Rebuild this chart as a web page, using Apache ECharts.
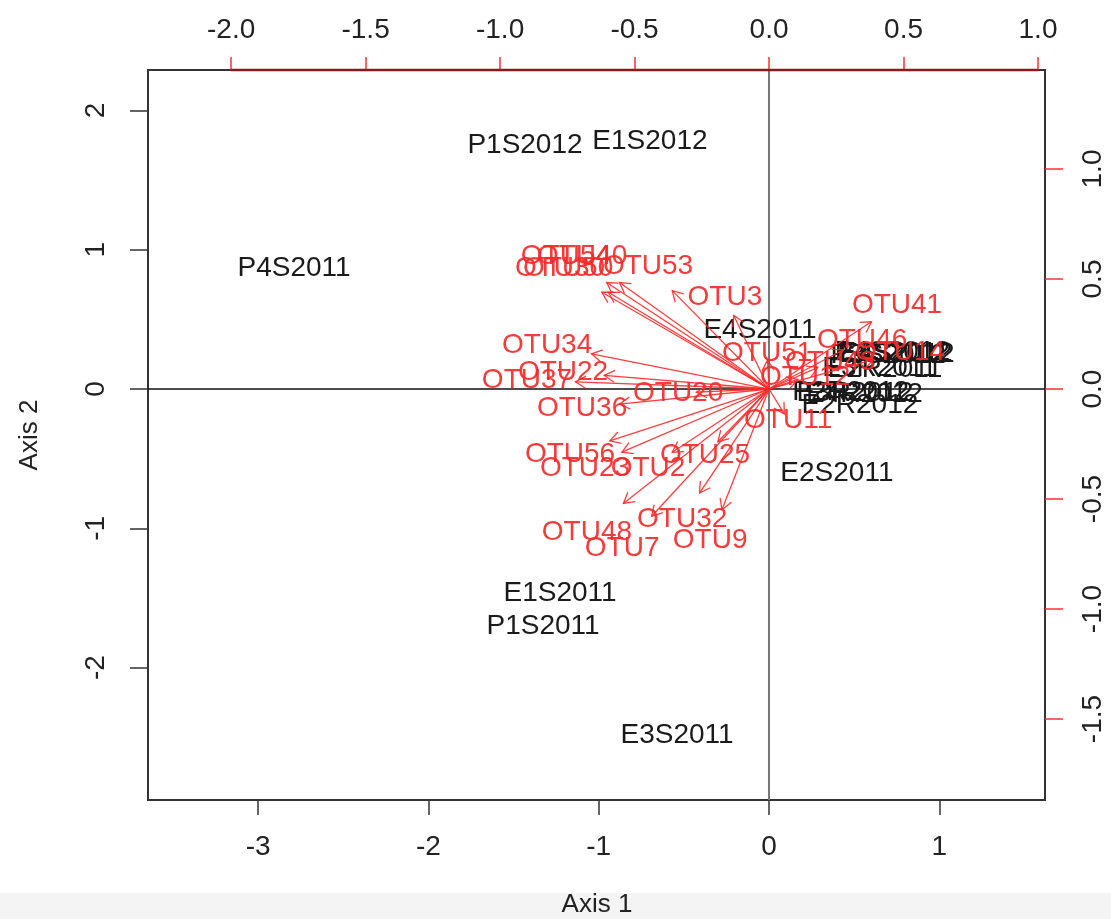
<!DOCTYPE html>
<html>
<head>
<meta charset="utf-8">
<script src="https://cdn.jsdelivr.net/npm/echarts@6/dist/echarts.min.js"></script>
<style>html,body{margin:0;padding:0;background:#fff}#c{width:1111px;height:919px}</style>
</head>
<body>
<div id="c"></div>
<script>
// Sample (site) scores, Axis 1 / Axis 2
const sampleNames = ['P1S2012','E1S2012','P4S2011','E4S2011','E2S2011','E1S2011','P1S2011','E3S2011',
  'P3S2012','E3S2012','P4S2012','E4S2012','E3R2011','E2R2011','P2R2012','E3R2012','E4R2012','E2R2012'];
const sampleX = [-1.433,-0.699,-2.789,-0.053,0.399,-1.227,-1.327,-0.540,
  0.700,0.740,0.725,0.752,0.650,0.681,0.480,0.505,0.560,0.534];
const sampleY = [1.752,1.780,0.869,0.424,-0.603,-1.464,-1.701,-2.484,
  0.245,0.255,0.262,0.250,0.150,0.144,-0.025,-0.030,-0.038,-0.115];

// OTU (species) loadings, top / right axes
const otuNames = ['OTU54','OTU40','OTU30','OTU50','OTU53','OTU3','OTU34','OTU22','OTU37','OTU36','OTU20',
  'OTU56','OTU23','OTU2','OTU25','OTU32','OTU9','OTU48','OTU7','OTU11','OTU41','OTU46','OTU14','OTU51','OTU12','OTU43'];
const otuX = [-0.755,-0.695,-0.777,-0.747,-0.450,-0.164,-0.825,-0.766,-0.900,-0.695,-0.338,
  -0.740,-0.684,-0.450,-0.238,-0.323,-0.219,-0.677,-0.546,0.071,0.476,0.346,0.487,-0.007,0.134,0.227];
const otuY = [0.605,0.605,0.550,0.550,0.559,0.418,0.200,0.077,0.041,-0.086,-0.018,
  -0.295,-0.359,-0.359,-0.300,-0.591,-0.686,-0.650,-0.723,-0.141,0.382,0.223,0.168,0.164,0.055,0.123];

// Tick labels
const axis1Ticks = [-3,-2,-1,0,1];
const axis2Ticks = [-2,-1,0,1,2];
const topTicks = [-2,-1.5,-1,-0.5,0,0.5,1];
const rightTicks = [-1.5,-1,-0.5,0,0.5,1];

const FONT = '"Liberation Sans", Arial, sans-serif';
const RED = '#f52a2a';
const chart = echarts.init(document.getElementById('c'), null, {renderer:'canvas'});

const lblStyle = {color:'#222', fontSize:28, fontFamily:FONT};

const option = {
  animation:false,
  backgroundColor:'#fff',
  grid:{left:148, right:66, top:70, bottom:119, show:true, borderColor:'#333', borderWidth:2, backgroundColor:'transparent'},
  xAxis:[
    {type:'value', position:'bottom', min:-3.647, max:1.621, splitLine:{show:false}, axisLine:{show:false, onZero:false},
     axisTick:{show:true, length:15, lineStyle:{color:'#333', width:1.5}, customValues:axis1Ticks},
     axisLabel:Object.assign({customValues:axis1Ticks, margin:33, formatter:v=>String(v)}, lblStyle)},
    {type:'value', position:'top', min:-2.309, max:1.026, splitLine:{show:false}, axisLine:{show:false, onZero:false},
     axisTick:{show:true, length:13, lineStyle:{color:'#ff3030', width:1.5}, customValues:topTicks},
     axisLabel:Object.assign({customValues:topTicks, margin:26, formatter:v=>v.toFixed(1)}, lblStyle)}
  ],
  yAxis:[
    {type:'value', position:'left', min:-2.95, max:2.29, splitLine:{show:false}, axisLine:{show:false, onZero:false},
     axisTick:{show:true, length:18, lineStyle:{color:'#333', width:1.5}, customValues:axis2Ticks},
     axisLabel:Object.assign({customValues:axis2Ticks, rotate:90, margin:38, formatter:v=>String(v)}, lblStyle)},
    {type:'value', position:'right', min:-1.868, max:1.45, splitLine:{show:false}, axisLine:{show:false, onZero:false},
     axisTick:{show:true, length:18, lineStyle:{color:'#ff3030', width:1.5}, customValues:rightTicks},
     axisLabel:Object.assign({customValues:rightTicks, rotate:90, margin:34, formatter:v=>v.toFixed(1)}, lblStyle)}
  ],
  graphic:[
    {type:'rect', left:0, top:893, shape:{width:1111, height:26}, style:{fill:'#f4f4f4'}, z:-10},
    {type:'text', x:597, y:905, style:{text:'Axis 1', fill:'#222', font:'26px '+FONT, align:'center', verticalAlign:'middle'}},
    {type:'text', x:30, y:435, rotation:Math.PI/2, style:{text:'Axis 2', fill:'#222', font:'26px '+FONT, align:'center', verticalAlign:'middle'}}
  ],
  series:[
    // zero reference lines
    {type:'custom', xAxisIndex:0, yAxisIndex:0, z:1, silent:true, data:[[0,0]],
     renderItem:function(params, api){
       const cs = params.coordSys; const p = api.coord([api.value(0), api.value(1)]);
       return {type:'group', children:[
         {type:'line', shape:{x1:p[0], y1:cs.y, x2:p[0], y2:cs.y+cs.height}, style:{stroke:'#777', lineWidth:2}},
         {type:'line', shape:{x1:cs.x, y1:p[1], x2:cs.x+cs.width, y2:p[1]}, style:{stroke:'#111', lineWidth:1.5}}
       ]};
     }},
    // red top axis line from -2.0 to 1.0
    {type:'custom', xAxisIndex:1, yAxisIndex:1, z:5, silent:true, data:[[topTicks[0], topTicks[topTicks.length-1]]],
     renderItem:function(params, api){
       const cs = params.coordSys;
       const a = api.coord([api.value(0), 0]); const b = api.coord([api.value(1), 0]);
       return {type:'line', shape:{x1:a[0], y1:cs.y, x2:b[0], y2:cs.y}, style:{stroke:'#8b1a1a', lineWidth:2.5}};
     }},
    // sample labels
    {type:'custom', xAxisIndex:0, yAxisIndex:0, z:2, silent:true,
     data:sampleX.map((x,i)=>[x, sampleY[i]]),
     renderItem:function(params, api){
       const p = api.coord([api.value(0), api.value(1)]);
       return {type:'text', x:p[0], y:p[1], style:{text:sampleNames[params.dataIndex], fill:'#1a1a1a', font:'28px '+FONT, align:'center', verticalAlign:'middle'}};
     }},
    // arrows (biplot draws arrows to 0.8 of the loadings)
    {type:'custom', xAxisIndex:1, yAxisIndex:1, z:3, silent:true,
     data:otuX.map((x,i)=>[x, otuY[i]]),
     renderItem:function(params, api){
       const o = api.coord([0,0]);
       const t = api.coord([api.value(0)*0.8, api.value(1)*0.8]);
       const ang = Math.atan2(t[1]-o[1], t[0]-o[0]);
       const L = 12, w = Math.PI/6;
       const h1 = [t[0]-L*Math.cos(ang-w), t[1]-L*Math.sin(ang-w)];
       const h2 = [t[0]-L*Math.cos(ang+w), t[1]-L*Math.sin(ang+w)];
       const st = {stroke:'#ff2a2a', lineWidth:1.3, opacity:0.9};
       return {type:'group', children:[
         {type:'line', shape:{x1:o[0], y1:o[1], x2:t[0], y2:t[1]}, style:st},
         {type:'polyline', shape:{points:[h1, t, h2]}, style:Object.assign({fill:null}, st)}
       ]};
     }},
    // OTU labels
    {type:'custom', xAxisIndex:1, yAxisIndex:1, z:4, silent:true,
     data:otuX.map((x,i)=>[x, otuY[i]]),
     renderItem:function(params, api){
       const p = api.coord([api.value(0), api.value(1)]);
       return {type:'text', x:p[0], y:p[1], style:{text:otuNames[params.dataIndex], fill:RED, opacity:0.92, font:'28px '+FONT, align:'center', verticalAlign:'middle'}};
     }}
  ]
};
chart.setOption(option);
</script>
</body>
</html>
